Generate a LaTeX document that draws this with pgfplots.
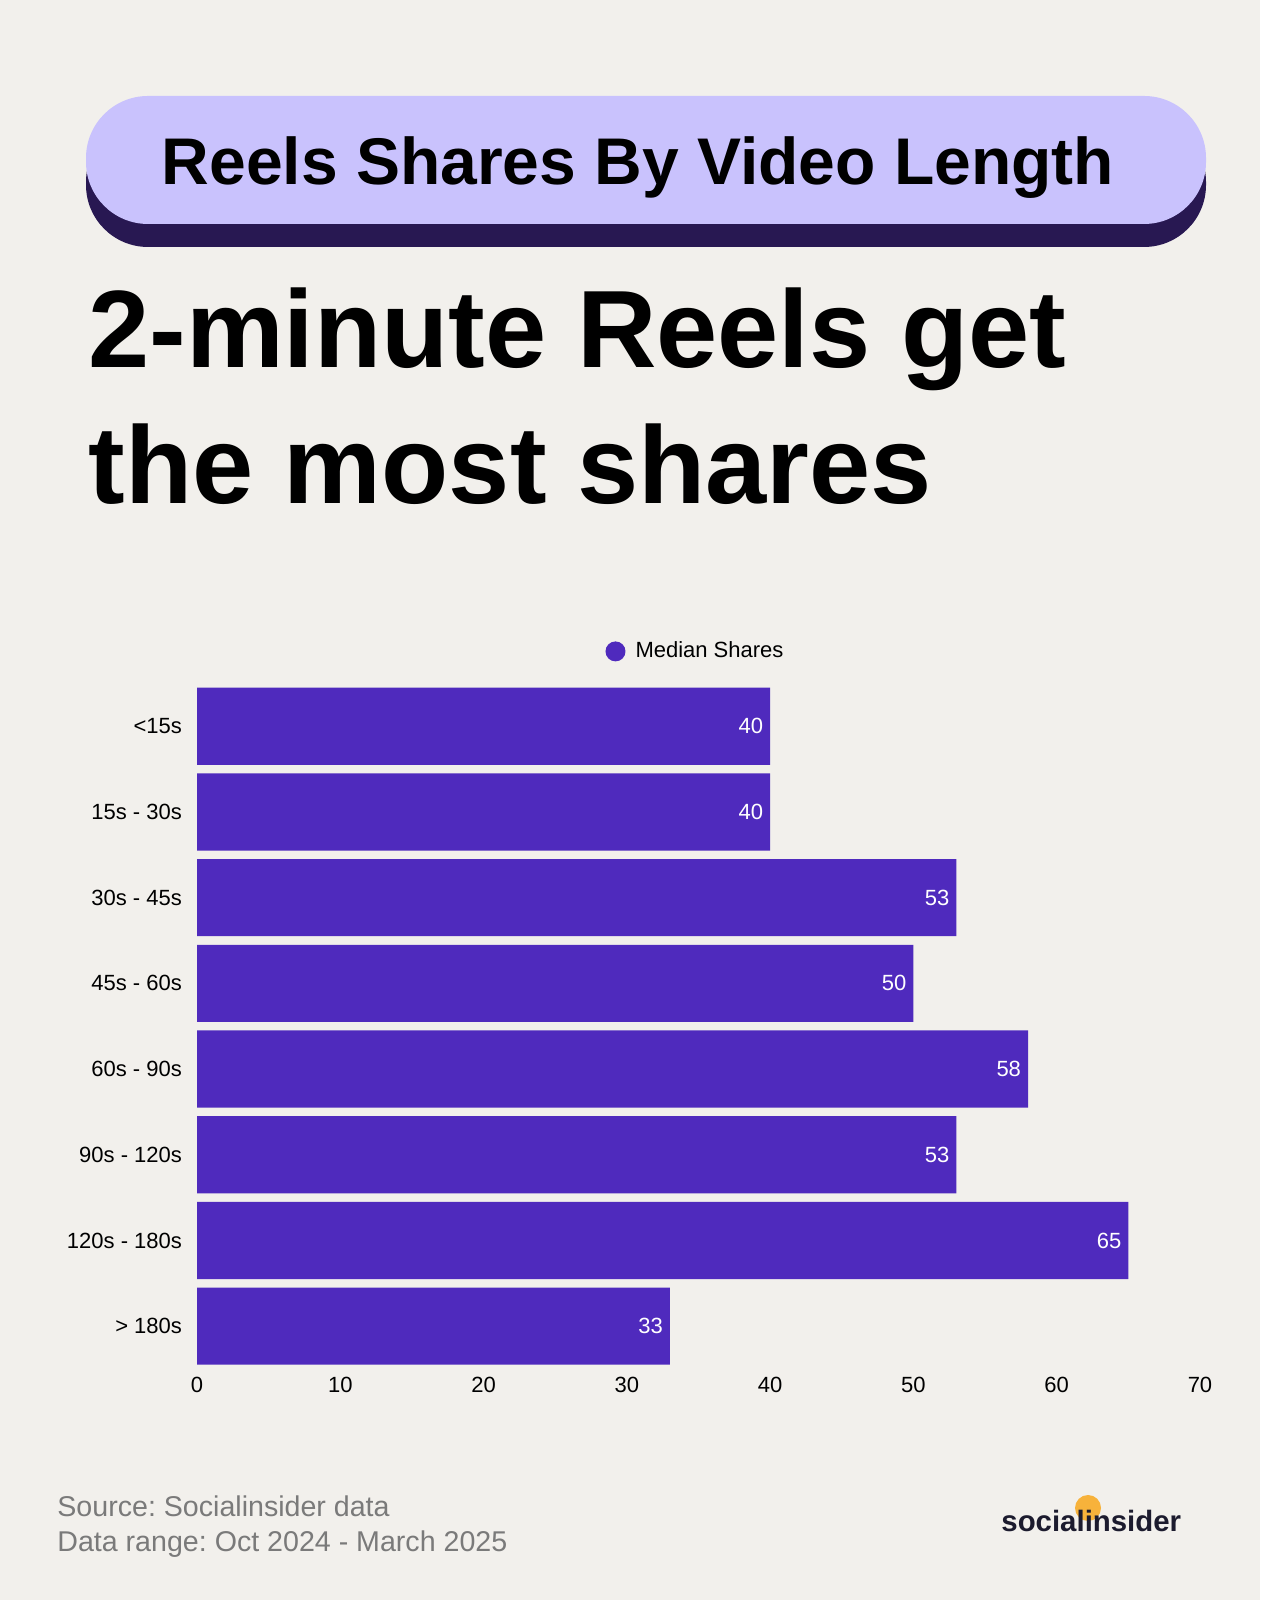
\documentclass[border=0pt]{standalone}
\usepackage{pgfplots}
\pgfplotsset{compat=1.18}
\usepackage{fontspec}
\setmainfont{Liberation Sans}
\frenchspacing
\definecolor{bgc}{HTML}{F2F0EC}
\definecolor{barc}{HTML}{4F2ABD}
\definecolor{banlight}{HTML}{C9C2FD}
\definecolor{bandark}{HTML}{281852}
\definecolor{foot}{HTML}{7A7A7A}
\definecolor{logoc}{HTML}{1C1B2E}
\definecolor{logoo}{HTML}{F7B23B}

\begin{document}
\begin{tikzpicture}
% page: 1260x1600 px, 1 px = 0.5 pt
\fill[bgc] (0,0) rectangle (630pt,800pt);
\useasboundingbox (0,0) rectangle (630pt,800pt);

% title banner
\fill[bandark, rounded corners=31pt] (43pt,676.5pt) rectangle (603pt,740pt);
\fill[banlight, rounded corners=31pt] (43pt,688pt) rectangle (603pt,752pt);
\node[anchor=base, inner sep=0pt, font=\fontsize{33}{36}\selectfont\bfseries]
  at (319pt,707.5pt) {Reels Shares By Video Length};

% headline
\node[anchor=base west, inner sep=0pt, font=\fontsize{55}{60}\selectfont\bfseries]
  at (44pt,616pt) {2-minute Reels get};
\node[anchor=base west, inner sep=0pt, font=\fontsize{55}{60}\selectfont\bfseries]
  at (44pt,548pt) {the most shares};

% footer
\node[anchor=base west, inner sep=0pt, text=foot, font=\fontsize{14.3}{16}\selectfont]
  at (28.5pt,41.5pt) {Source: Socialinsider data};
\node[anchor=base west, inner sep=0pt, text=foot, font=\fontsize{14.3}{16}\selectfont]
  at (28.5pt,24pt) {Data range: Oct 2024 - March 2025};

% logo
\fill[logoo] (544pt,46pt) circle (6.5pt);
\node[anchor=base west, inner sep=0pt, text=logoc, font=\fontsize{14.7}{16}\selectfont\bfseries]
  at (500.5pt,34pt) {socialinsider};

\begin{axis}[
    at={(98.5pt,115.5pt)}, anchor=south west,
    scale only axis,
    width=501.5pt, height=342.8pt,
    xbar, bar width=0.9,
    xmin=0, xmax=70,
    ymin=-0.5, ymax=7.5,
    y dir=reverse,
    xtick={0,10,...,70},
    ytick={0,...,7},
    yticklabels={{<15s},{15s - 30s},{30s - 45s},{45s - 60s},{60s - 90s},{90s - 120s},{120s - 180s},{> 180s}},
    axis line style={draw=none},
    major tick length=0pt,
    tick style={draw=none},
    /pgf/number format/assume math mode=true,
    tick label style={font=\fontsize{11}{13}\selectfont, text=black},
    xticklabel style={anchor=base, yshift=-11.5pt},
    yticklabel style={anchor=east, xshift=-4pt},
    nodes near coords,
    every node near coord/.append style={anchor=east, text=white, font=\fontsize{11}{13}\selectfont},
    legend style={at={(0.498,1)}, anchor=center, yshift=16pt, draw=none, fill=none,
      font=\fontsize{11}{13}\selectfont},
    legend image code/.code={\fill[barc] (0.12cm,0cm) circle (5pt); \path (0.296cm+3pt,0cm);},
    clip=false,
]
\addplot[draw=none, fill=barc] coordinates {
  (40,0) (40,1) (53,2) (50,3) (58,4) (53,5) (65,6) (33,7)
};
\addlegendentry{Median Shares}
\end{axis}
\end{tikzpicture}
\end{document}
